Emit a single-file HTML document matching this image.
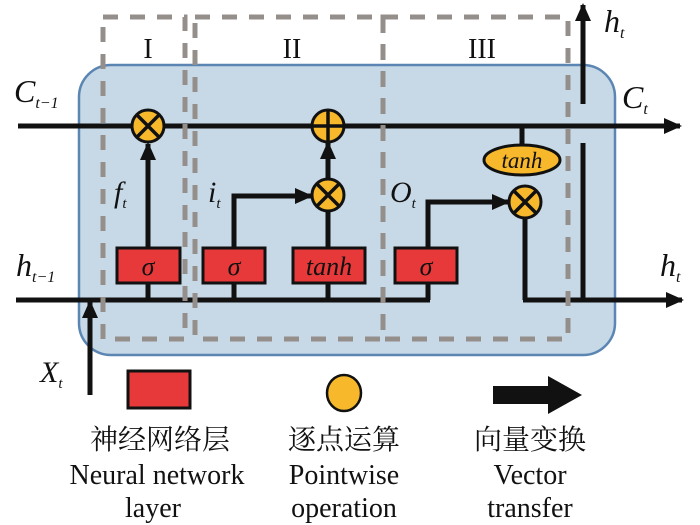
<!DOCTYPE html>
<html><head><meta charset="utf-8"><style>
html,body{margin:0;padding:0;background:#fff;width:700px;height:525px;overflow:hidden}
svg{display:block}
.it{font-family:"Liberation Serif",serif;font-style:italic}
.lg{font-family:"Liberation Serif","Noto Serif CJK SC",serif;font-size:28px;fill:#111;text-anchor:middle}
</style></head><body>
<svg width="700" height="525" viewBox="0 0 700 525" xmlns="http://www.w3.org/2000/svg">
<defs>
<marker id="ah2" markerWidth="18" markerHeight="16" refX="16" refY="8" orient="auto" markerUnits="userSpaceOnUse">
<path d="M0,0 L18,8 L0,16 z" fill="#111"/></marker>
</defs>
<rect x="79" y="65" width="536" height="290" rx="32" fill="#c7d9e6" stroke="#5b86b3" stroke-width="2.5"/>
<g stroke="#111" stroke-width="5" fill="none">
<line x1="18" y1="126" x2="680" y2="126" marker-end="url(#ah2)"/>
<line x1="16" y1="300" x2="430" y2="300"/>
<line x1="525" y1="219" x2="525" y2="300"/>
<line x1="523" y1="300" x2="682" y2="300" marker-end="url(#ah2)"/>
<line x1="583" y1="143" x2="583" y2="302"/>
<line x1="583" y1="104" x2="583" y2="5" marker-end="url(#ah2)"/>
<line x1="90" y1="395" x2="90" y2="302" marker-end="url(#ah2)"/>
<line x1="148" y1="300" x2="148" y2="144" marker-end="url(#ah2)"/>
<polyline points="234,300 234,196 311,196" marker-end="url(#ah2)"/>
<line x1="328" y1="300" x2="328" y2="210"/>
<line x1="328" y1="180" x2="328" y2="143" marker-end="url(#ah2)"/>
<polyline points="428,300 428,202 508,202" marker-end="url(#ah2)"/>
<line x1="522" y1="126" x2="522" y2="150"/>
</g>
<g stroke="#958f8c" stroke-width="5" fill="none" stroke-dasharray="15,12">
<rect x="103" y="17" width="82" height="322"/>
<rect x="195" y="17" width="188" height="322"/>
<rect x="383" y="17" width="185" height="322"/>
</g>
<g fill="#e8393a" stroke="#111" stroke-width="3">
<rect x="117" y="248" width="63" height="35"/>
<rect x="203" y="248" width="62" height="35"/>
<rect x="293" y="248" width="72" height="35"/>
<rect x="395" y="248" width="62" height="35"/>
</g>
<g class="it" font-size="26" text-anchor="middle" fill="#111">
<text x="148" y="275">σ</text><text x="234" y="275">σ</text><text x="329" y="275">tanh</text><text x="426" y="275">σ</text>
</g>
<g stroke="#111" stroke-width="3" fill="#f7b92b">
<circle cx="148" cy="126" r="16"/>
<circle cx="328" cy="126" r="16"/>
<circle cx="328" cy="195" r="16"/>
<circle cx="525" cy="202" r="16"/>
<ellipse cx="522" cy="160" rx="38" ry="15"/>
</g>
<g stroke="#111" stroke-width="3.5">
<path d="M137,115 L159,137 M159,115 L137,137"/>
<path d="M317,184 L339,206 M339,184 L317,206"/>
<path d="M514,191 L536,213 M536,191 L514,213"/>
<path d="M312,126 L344,126 M328,110 L328,142"/>
</g>
<text x="522" y="168" class="it" font-size="23" text-anchor="middle" fill="#111">tanh</text>
<g class="it" fill="#111">
<text x="14" y="102" font-size="32">C<tspan font-size="16" dy="6">t−1</tspan></text>
<text x="622" y="108" font-size="32">C<tspan font-size="16" dy="6">t</tspan></text>
<text x="16" y="276" font-size="32">h<tspan font-size="16" dy="6">t−1</tspan></text>
<text x="660" y="276" font-size="32">h<tspan font-size="16" dy="6">t</tspan></text>
<text x="604" y="32" font-size="32">h<tspan font-size="16" dy="6">t</tspan></text>
<text x="114" y="202" font-size="30">f<tspan font-size="15" dy="6">t</tspan></text>
<text x="208" y="202" font-size="30">i<tspan font-size="15" dy="6">t</tspan></text>
<text x="390" y="202" font-size="30">O<tspan font-size="15" dy="6">t</tspan></text>
<text x="40" y="382" font-size="30">X<tspan font-size="15" dy="6">t</tspan></text>
</g>
<g font-family="Liberation Serif,serif" font-size="28" fill="#111" text-anchor="middle">
<text x="148" y="58">I</text><text x="292" y="58">II</text><text x="482" y="58">III</text>
</g>
<rect x="128" y="371" width="62" height="37" fill="#e8393a" stroke="#111" stroke-width="3"/>
<ellipse cx="344" cy="393" rx="17" ry="18" fill="#f7b92b" stroke="#111" stroke-width="2.5"/>
<path d="M493,386 L548,386 L548,376 L582,395 L548,414 L548,404 L493,404 z" fill="#111"/>
<g class="lg">
<text x="160" y="449">神经网络层</text>
<text x="344" y="449">逐点运算</text>
<text x="530" y="449">向量变换</text>
<text x="157" y="484">Neural network</text>
<text x="344" y="484">Pointwise</text>
<text x="530" y="484">Vector</text>
<text x="153" y="517">layer</text>
<text x="344" y="517">operation</text>
<text x="530" y="517">transfer</text>
</g>
</svg>
</body></html>
